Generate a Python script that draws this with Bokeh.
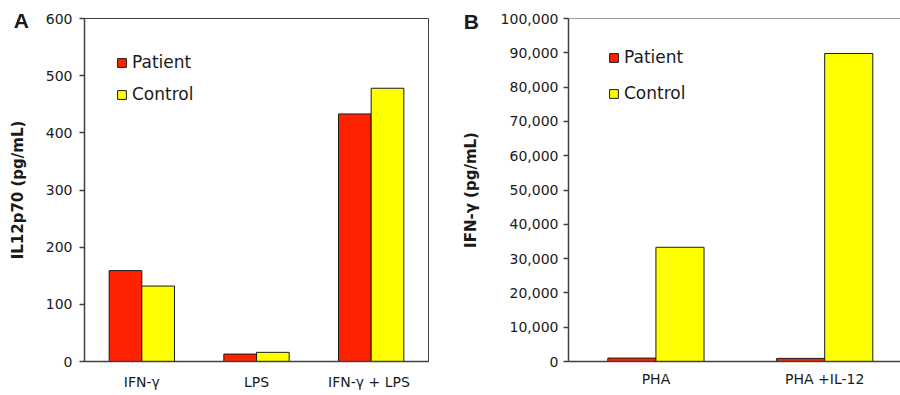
from bokeh.plotting import figure
from bokeh.models import (FactorRange, Range1d, ColumnDataSource, Label, Span,
                          FixedTicker, NumeralTickFormatter)
from bokeh.transform import dodge
from bokeh.layouts import row
from bokeh.embed import file_html
from bokeh.resources import INLINE

# ---------------- data ----------------
a_categories = ["IFN-γ", "LPS", "IFN-γ  + LPS"]
a_patient = [159, 13, 433]
a_control = [132, 16, 478]
a_yticks = [0, 100, 200, 300, 400, 500, 600]

b_categories = ["PHA", "PHA +IL-12"]
b_patient = [1000, 900]
b_control = [33300, 89800]
b_yticks = [0, 10000, 20000, 30000, 40000, 50000, 60000, 70000, 80000, 90000, 100000]

series_names = ["Patient", "Control"]
panel_letters = ["A", "B"]

# ---------------- style ----------------
RED = "#FF2200"
YEL = "#FFFF00"
EDGE = "#1a1a1a"
AXIS = "#404040"
TXT = "#1a1a1a"
FONT = "DejaVu Sans"
BAR_W = 0.285
OFF = 0.1425


def style_axes(p):
    p.xgrid.visible = False
    p.ygrid.visible = False
    for ax in (p.xaxis[0], p.yaxis[0]):
        ax.axis_line_color = AXIS
        ax.axis_line_width = 1.5
        ax.minor_tick_line_color = None
        ax.major_label_text_font = FONT
        ax.major_label_text_font_size = "14px"
        ax.major_label_text_color = TXT
        ax.axis_label_text_font = FONT
        ax.axis_label_text_font_style = "bold"
        ax.axis_label_text_font_size = "15px"
        ax.axis_label_text_color = TXT
    xa = p.xaxis[0]
    xa.major_tick_line_color = None
    xa.major_tick_out = 0
    xa.major_tick_in = 0
    ya = p.yaxis[0]
    ya.major_tick_line_color = AXIS
    ya.major_tick_line_width = 1.5
    ya.major_tick_out = 5
    ya.major_tick_in = 0


def style_legend(p, loc, spacing):
    leg = p.legend[0]
    leg.location = loc
    leg.padding = 0
    leg.margin = 0
    leg.border_line_color = None
    leg.background_fill_alpha = 0
    leg.glyph_width = 11
    leg.glyph_height = 11
    leg.label_height = 20
    leg.label_standoff = 5
    leg.spacing = spacing
    leg.label_text_font = FONT
    leg.label_text_font_size = "17px"
    leg.label_text_color = TXT


def letter(text, x, y):
    return Label(x=x, y=y, x_units="screen", y_units="screen", text=text,
                 text_font="Liberation Sans", text_font_style="bold",
                 text_font_size="21px", text_color=TXT, text_baseline="alphabetic")


# ---------------- panel A ----------------
src_a = ColumnDataSource(dict(cat=a_categories, patient=a_patient, control=a_control))
pa = figure(x_range=FactorRange(factors=a_categories, range_padding=0),
            y_range=Range1d(0, 600),
            width=443, height=395,
            min_border_left=84, min_border_right=15,
            min_border_top=17, min_border_bottom=34,
            output_backend="svg", toolbar_location=None)
pa.vbar(x=dodge("cat", -OFF, range=pa.x_range), top="patient", width=BAR_W, source=src_a,
        fill_color=RED, line_color=EDGE, line_width=1, legend_label=series_names[0])
pa.vbar(x=dodge("cat", OFF, range=pa.x_range), top="control", width=BAR_W, source=src_a,
        fill_color=YEL, line_color=EDGE, line_width=1, legend_label=series_names[1])
style_axes(pa)
pa.yaxis[0].ticker = FixedTicker(ticks=a_yticks)
pa.yaxis[0].major_label_standoff = 7
pa.xaxis[0].major_label_standoff = 12
pa.yaxis[0].axis_label = "IL12p70 (pg/mL)"
pa.yaxis[0].axis_label_standoff = 16
pa.outline_line_color = AXIS
pa.outline_line_width = 1
style_legend(pa, (32, 257), 12)
pa.add_layout(letter(panel_letters[0], -414.7, 340.7), "right")

# ---------------- panel B ----------------
b_pos = list(range(1, len(b_categories) + 1))
src_b = ColumnDataSource(dict(pos=b_pos, patient=b_patient, control=b_control))
pb = figure(x_range=Range1d(0.482, 2.449),
            y_range=Range1d(0, 100000),
            width=457, height=395,
            min_border_left=119, min_border_right=0,
            min_border_top=18, min_border_bottom=30,
            output_backend="svg", toolbar_location=None)
pb.vbar(x=dodge("pos", -OFF), top="patient", width=BAR_W, source=src_b,
        fill_color=RED, line_color=EDGE, line_width=1, legend_label=series_names[0])
pb.vbar(x=dodge("pos", OFF), top="control", width=BAR_W, source=src_b,
        fill_color=YEL, line_color=EDGE, line_width=1, legend_label=series_names[1])
style_axes(pb)
pb.xaxis[0].ticker = FixedTicker(ticks=b_pos)
pb.xaxis[0].major_label_overrides = {p: c for p, c in zip(b_pos, b_categories)}
pb.xaxis[0].major_label_standoff = 9
pb.yaxis[0].ticker = FixedTicker(ticks=b_yticks)
pb.yaxis[0].formatter = NumeralTickFormatter(format="0,0")
pb.yaxis[0].major_label_standoff = 5
pb.yaxis[0].axis_label = "IFN-γ (pg/mL)"
pb.yaxis[0].axis_label_standoff = 18
pb.outline_line_color = None
pb.add_layout(Span(location=100000, dimension="width", line_color=AXIS, line_width=1))
style_legend(pb, (40, 258), 16)
pb.add_layout(letter(panel_letters[1], 20.3, 340.2), "left")

layout = row(pa, pb)
open("out.html", "w").write(file_html(layout, INLINE))
